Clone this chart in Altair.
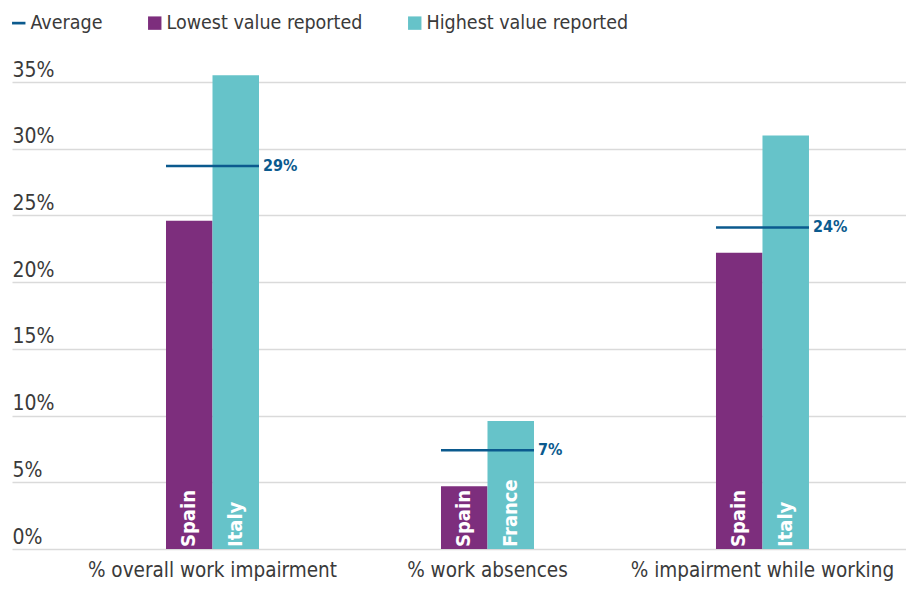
import altair as alt
import pandas as pd

categories = ["% overall work impairment", "% work absences", "% impairment while working"]
lowest_country = ["Spain", "Spain", "Spain"]
lowest_value = [24.6, 4.7, 22.2]
highest_country = ["Italy", "France", "Italy"]
highest_value = [35.5, 9.6, 31.0]
average_value = [28.7, 7.4, 24.1]
average_label = ["29%", "7%", "24%"]
series_names = ["Average", "Lowest value reported", "Highest value reported"]
y_ticks = [0, 5, 10, 15, 20, 25, 30, 35]

FONT = "DejaVu Sans Condensed, Lato, sans-serif"
PURPLE = "#7d2e7d"
TEAL = "#66c3c9"
BLUE = "#0b5a8e"
TEXT = "#3a3a3a"

rows = []
for c, lc, lv, hc, hv in zip(categories, lowest_country, lowest_value, highest_country, highest_value):
    rows.append({"category": c, "series": series_names[1], "country": lc, "value": lv, "zero": 0})
    rows.append({"category": c, "series": series_names[2], "country": hc, "value": hv, "zero": 0})
bars_df = pd.DataFrame(rows)
avg_df = pd.DataFrame({"category": categories, "avg": average_value, "label": average_label})
legend_df = pd.DataFrame({"category": [categories[0]] * 3, "series": series_names, "value": [1, 1, 1]})

x_enc = alt.X("category:N", sort=categories,
              scale=alt.Scale(paddingInner=0.6618, paddingOuter=0.4564, align=0.6135),
              axis=alt.Axis(title=None, labelAngle=0, domain=False, ticks=False,
                            labelFontSize=20.5, labelColor=TEXT, labelFont=FONT, labelLimit=0,
                            labelPadding=11, labelBaseline="top"))
y_scale = alt.Scale(domain=[0, 36.5], nice=False)
y_axis = alt.Axis(title=None, values=y_ticks, labelExpr="datum.value + '%'", domain=False, ticks=False,
                  grid=True, gridColor="#dadada", gridWidth=1.5, labelAlign="left", labelPadding=0,
                  labelBaseline="alphabetic", labelOffset=-6, labelFontSize=21, labelColor=TEXT,
                  labelFont=FONT)
xoff = alt.XOffset("series:N", sort=series_names[1:], scale=alt.Scale(paddingInner=0, paddingOuter=0))

bars = alt.Chart(bars_df).mark_bar().encode(
    x=x_enc,
    xOffset=xoff,
    y=alt.Y("value:Q", scale=y_scale, axis=y_axis),
    fill=alt.Fill("series:N", scale=alt.Scale(domain=series_names[1:], range=[PURPLE, TEAL]),
                  legend=None),
)

bar_labels = alt.Chart(bars_df).mark_text(angle=270, align="left", baseline="middle", dx=2,
                                          color="white", fontWeight="bold", fontSize=20, font=FONT).encode(
    x=alt.X("category:N", sort=categories),
    xOffset=xoff,
    y=alt.Y("zero:Q"),
    text="country:N",
)

avg_rule = alt.Chart(avg_df).mark_rule(strokeWidth=2.5).encode(
    x=alt.X("category:N", sort=categories, bandPosition=0),
    x2=alt.X2("category", bandPosition=1),
    y=alt.Y("avg:Q"),
    color=alt.value(BLUE),
)

avg_text = alt.Chart(avg_df).mark_text(align="left", baseline="middle", dx=4, fontWeight="bold",
                                       fontSize=16, color=BLUE, font=FONT).encode(
    x=alt.X("category:N", sort=categories, bandPosition=1),
    y=alt.Y("avg:Q"),
    text="label:N",
)

leg = alt.Legend(title=None, orient="none", legendX=-3, legendY=-49, direction="horizontal",
                 symbolOpacity=1, symbolSize=180, symbolStrokeWidth=0, labelFontSize=19.5,
                 labelColor=TEXT, labelFont=FONT, columnPadding=42, labelOffset=2, labelLimit=0)

legend_pts = alt.Chart(legend_df).mark_point(filled=True, opacity=0, size=180).encode(
    x=alt.X("category:N", sort=categories),
    y=alt.Y("value:Q"),
    color=alt.Color("series:N", scale=alt.Scale(domain=series_names, range=[BLUE, PURPLE, TEAL]),
                    legend=leg),
    shape=alt.Shape("series:N", scale=alt.Scale(domain=series_names,
                                                range=["M-1,-0.2H1V0.2H-1Z", "square", "square"]),
                    legend=leg),
)

chart = alt.layer(bars, bar_labels, avg_rule, avg_text, legend_pts).properties(
    width=894, height=487,
    autosize=alt.AutoSizeParams(type="none"),
    padding={"left": 4, "top": 54, "right": 0, "bottom": 37},
).configure_view(stroke=None)

chart.save("out.html", embed_options={"renderer": "svg", "actions": False})
